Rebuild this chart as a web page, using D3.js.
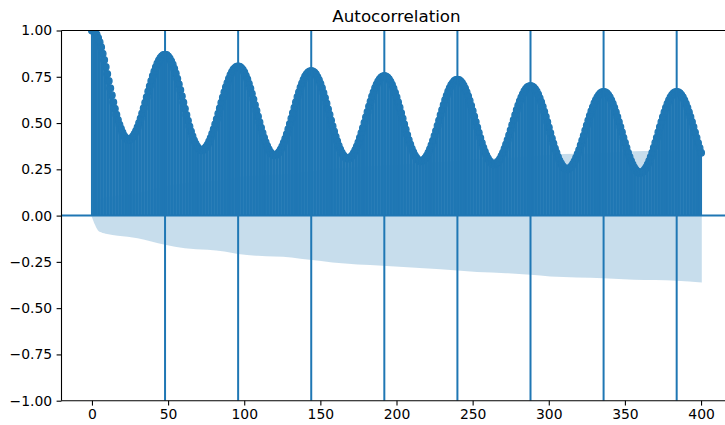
<!DOCTYPE html>
<meta charset="utf-8">
<style>
body { margin: 0; background: #fff; }
text { font-family: "DejaVu Sans", sans-serif; fill: #000; }
</style>
<body>
<script src="https://d3js.org/d3.v7.min.js"></script>
<script>

    // acf value for lags 0..400
    var acfValues = [
        1.000, 0.997, 0.990, 0.978, 0.960, 0.937, 0.909, 0.875, 0.840, 0.803, 0.765, 0.727, 0.688, 0.650, 0.612, 0.577, 0.545, 0.516, 0.491, 0.469, 0.449, 0.432, 0.420, 0.413, 0.410,
        0.412, 0.418, 0.428, 0.441, 0.457, 0.477, 0.500, 0.525, 0.552, 0.580, 0.610, 0.640, 0.670, 0.699, 0.727, 0.754, 0.779, 0.802, 0.822, 0.838, 0.852, 0.861, 0.867, 0.869,
        0.867, 0.860, 0.849, 0.834, 0.816, 0.794, 0.768, 0.740, 0.710, 0.678, 0.645, 0.611, 0.577, 0.544, 0.512, 0.482, 0.454, 0.429, 0.406, 0.388, 0.373, 0.362, 0.355, 0.353,
        0.355, 0.361, 0.370, 0.383, 0.400, 0.419, 0.442, 0.466, 0.493, 0.521, 0.550, 0.580, 0.609, 0.638, 0.666, 0.693, 0.717, 0.740, 0.759, 0.776, 0.789, 0.798, 0.804, 0.806,
        0.804, 0.798, 0.788, 0.774, 0.756, 0.736, 0.712, 0.686, 0.658, 0.628, 0.597, 0.566, 0.535, 0.504, 0.474, 0.446, 0.420, 0.396, 0.376, 0.358, 0.344, 0.334, 0.328, 0.326,
        0.328, 0.334, 0.343, 0.357, 0.373, 0.393, 0.415, 0.440, 0.467, 0.495, 0.524, 0.554, 0.583, 0.612, 0.641, 0.667, 0.692, 0.714, 0.734, 0.751, 0.764, 0.773, 0.779, 0.781,
        0.779, 0.773, 0.763, 0.749, 0.732, 0.712, 0.689, 0.663, 0.635, 0.606, 0.575, 0.545, 0.514, 0.483, 0.454, 0.426, 0.401, 0.377, 0.357, 0.340, 0.326, 0.316, 0.310, 0.308,
        0.310, 0.316, 0.325, 0.338, 0.354, 0.373, 0.395, 0.420, 0.446, 0.473, 0.502, 0.531, 0.560, 0.589, 0.616, 0.643, 0.667, 0.689, 0.708, 0.724, 0.737, 0.746, 0.752, 0.754,
        0.752, 0.746, 0.737, 0.723, 0.707, 0.687, 0.664, 0.639, 0.612, 0.584, 0.554, 0.524, 0.494, 0.465, 0.436, 0.409, 0.384, 0.361, 0.342, 0.325, 0.312, 0.302, 0.296, 0.294,
        0.296, 0.302, 0.311, 0.324, 0.340, 0.358, 0.380, 0.404, 0.430, 0.457, 0.485, 0.514, 0.543, 0.571, 0.598, 0.624, 0.648, 0.670, 0.689, 0.705, 0.717, 0.727, 0.732, 0.734,
        0.732, 0.726, 0.717, 0.703, 0.687, 0.667, 0.645, 0.620, 0.593, 0.565, 0.536, 0.506, 0.476, 0.447, 0.419, 0.392, 0.367, 0.345, 0.325, 0.309, 0.295, 0.286, 0.280, 0.278,
        0.280, 0.285, 0.294, 0.306, 0.322, 0.340, 0.361, 0.384, 0.408, 0.434, 0.461, 0.489, 0.517, 0.544, 0.570, 0.595, 0.618, 0.638, 0.656, 0.672, 0.684, 0.693, 0.698, 0.700,
        0.698, 0.692, 0.683, 0.670, 0.654, 0.634, 0.612, 0.588, 0.561, 0.534, 0.505, 0.476, 0.446, 0.417, 0.390, 0.363, 0.339, 0.317, 0.297, 0.281, 0.268, 0.259, 0.253, 0.251,
        0.253, 0.258, 0.267, 0.279, 0.294, 0.312, 0.333, 0.355, 0.380, 0.406, 0.432, 0.460, 0.487, 0.514, 0.539, 0.564, 0.586, 0.607, 0.625, 0.640, 0.652, 0.661, 0.666, 0.668,
        0.666, 0.661, 0.651, 0.639, 0.623, 0.604, 0.583, 0.559, 0.533, 0.506, 0.478, 0.450, 0.421, 0.393, 0.366, 0.340, 0.317, 0.295, 0.276, 0.260, 0.248, 0.238, 0.233, 0.231,
        0.233, 0.238, 0.248, 0.260, 0.276, 0.295, 0.317, 0.340, 0.366, 0.393, 0.421, 0.450, 0.478, 0.506, 0.533, 0.559, 0.583, 0.604, 0.623, 0.639, 0.651, 0.661, 0.666, 0.668,
        0.666, 0.661, 0.651, 0.639, 0.623, 0.604, 0.582, 0.559, 0.533, 0.506, 0.478, 0.449, 0.420, 0.392, 0.365, 0.340
    ];

    // confidence band half width at some lags
    var bandLags = [0, 1, 2, 4, 6, 10, 17, 30, 39, 48, 61, 76, 87, 96, 109, 131, 143, 158, 191, 218, 240, 253, 272, 288, 301, 336, 356, 384, 400];
    var bandHalf = [0, 0.03, 0.05, 0.08, 0.09, 0.1, 0.109, 0.122, 0.14, 0.158, 0.176, 0.185, 0.194, 0.208, 0.217, 0.226, 0.239, 0.253, 0.271, 0.284, 0.296, 0.305, 0.311, 0.32, 0.329, 0.338, 0.347, 0.352, 0.361];

    var seasonLags = [48, 96, 144, 192, 240, 288, 336, 384];
    var xTicks = [0, 50, 100, 150, 200, 250, 300, 350, 400];
    var yTicks = [-1, -0.75, -0.5, -0.25, 0, 0.25, 0.5, 0.75, 1];
    var title = "Autocorrelation";

    var C0 = "#1f77b4";
    var width = 725, height = 425;

    var x = d3.scaleLinear().domain([-20, 420]).range([61.5, 731.5]);
    var y = d3.scaleLinear().domain([-1, 1]).range([400.7, 30.5]);

    var svg = d3.select("body").append("svg")
        .attr("width", width)
        .attr("height", height);

    svg.append("defs").append("clipPath")
        .attr("id", "plotclip")
        .append("rect")
        .attr("x", x.range()[0])
        .attr("y", y.range()[1])
        .attr("width", x.range()[1] - x.range()[0])
        .attr("height", y.range()[0] - y.range()[1]);

    var plot = svg.append("g").attr("clip-path", "url(#plotclip)");

    var acfData = acfValues.map(function (v, i) { return {lag: i, value: v}; });
    var bandData = bandLags.map(function (l, i) { return {lag: l, half: bandHalf[i]}; });

    // confidence band (first and last lag widened by half a lag like statsmodels)
    var band = d3.area()
        .curve(d3.curveMonotoneX)
        .x(function (d, i) {
            if (i === 0) return x(d.lag - 0.5);
            if (i === bandData.length - 1) return x(d.lag + 0.5);
            return x(d.lag);
        })
        .y0(function (d) { return y(-d.half); })
        .y1(function (d) { return y(d.half); });

    plot.append("path")
        .datum(bandData)
        .attr("d", band)
        .attr("fill", C0)
        .attr("fill-opacity", 0.25);

    // stems
    plot.selectAll(".stem")
        .data(acfData)
        .enter().append("line")
        .attr("class", "stem")
        .attr("x1", function (d) { return x(d.lag); })
        .attr("x2", function (d) { return x(d.lag); })
        .attr("y1", y(0))
        .attr("y2", function (d) { return y(d.value); })
        .attr("stroke", C0)
        .attr("stroke-width", 2);

    // zero line
    plot.append("line")
        .attr("x1", x.range()[0])
        .attr("x2", x.range()[1])
        .attr("y1", y(0))
        .attr("y2", y(0))
        .attr("stroke", C0)
        .attr("stroke-width", 2);

    // markers
    plot.selectAll(".dot")
        .data(acfData)
        .enter().append("circle")
        .attr("class", "dot")
        .attr("cx", function (d) { return x(d.lag); })
        .attr("cy", function (d) { return y(d.value); })
        .attr("r", 3.4)
        .attr("fill", C0)
        .attr("stroke", C0)
        .attr("stroke-width", 1.2);

    // seasonal lag lines
    plot.selectAll(".season")
        .data(seasonLags)
        .enter().append("line")
        .attr("class", "season")
        .attr("x1", function (d) { return x(d); })
        .attr("x2", function (d) { return x(d); })
        .attr("y1", y.range()[0])
        .attr("y2", y.range()[1])
        .attr("stroke", C0)
        .attr("stroke-width", 2);

    // Add the X Axis
    var xAxis = svg.append("g")
        .attr("transform", "translate(0," + y.range()[0] + ")")
        .call(d3.axisBottom(x).tickValues(xTicks).tickSize(4.9).tickPadding(4).tickFormat(d3.format("d")));

    // Add the Y Axis
    var yAxis = svg.append("g")
        .attr("transform", "translate(" + x.range()[0] + ",0)")
        .call(d3.axisLeft(y).tickValues(yTicks).tickSize(4.9).tickPadding(4.5)
            .tickFormat(function (d) { return d3.format(".2f")(d).replace("-", "\u2212"); }));

    [xAxis, yAxis].forEach(function (a) {
        a.select(".domain").attr("stroke", "#000").attr("stroke-width", 1.1);
        a.selectAll(".tick line").attr("stroke", "#000").attr("stroke-width", 1.1);
        a.selectAll(".tick text")
            .style("font-family", "DejaVu Sans")
            .style("font-size", "13.9px")
            .attr("fill", "#000");
    });
    xAxis.select(".domain").attr("d", "M" + x.range()[0] + ",0H" + x.range()[1]);
    yAxis.select(".domain").attr("d", "M0," + y.range()[0] + "V" + y.range()[1]);

    // top spine
    svg.append("line")
        .attr("x1", x.range()[0])
        .attr("x2", x.range()[1])
        .attr("y1", y.range()[1])
        .attr("y2", y.range()[1])
        .attr("stroke", "#000")
        .attr("stroke-width", 1.1);

    svg.append("text")
        .attr("x", (x.range()[0] + x.range()[1]) / 2)
        .attr("y", 22)
        .attr("text-anchor", "middle")
        .style("font-size", "16.7px")
        .text(title);

</script>
</body>
